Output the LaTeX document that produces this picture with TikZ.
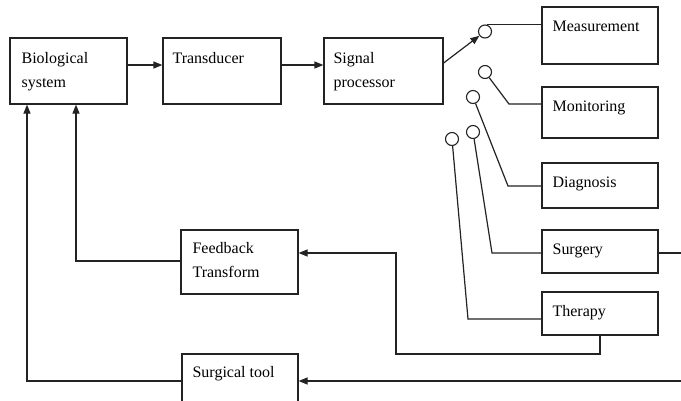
\documentclass[tikz,border=0pt]{standalone}
\usepackage{fontspec}
\setmainfont{Liberation Serif}
\usetikzlibrary{arrows.meta}
\definecolor{ink}{RGB}{35,35,35}
\tikzset{
  box/.style={draw=ink, line width=1.2pt, rectangle, inner sep=0pt, fill=white},
  lbl/.style={anchor=north west, inner sep=0pt, align=left, text=black,
    font=\fontsize{16}{24}\selectfont},
  sw/.style={draw=ink, line width=1.1pt, circle, minimum size=13pt, inner sep=0pt},
  wire/.style={draw=ink, line width=1.2pt},
  arr/.style={wire, -{Triangle[length=9pt,width=7pt]}}
}
\begin{document}
\begin{tikzpicture}[x=1pt,y=-1pt]
\useasboundingbox[fill=white] (0,0) rectangle (681,400);
% boxes
\node[box, minimum width=117pt, minimum height=66pt] (bio)   at (68.5,71) {};
\node[box, minimum width=118pt, minimum height=66pt] (trans) at (222,71) {};
\node[box, minimum width=119pt, minimum height=66pt] (sig)   at (383.5,71) {};
\node[box, minimum width=116pt, minimum height=57pt] (meas)  at (600,35.5) {};
\node[box, minimum width=116pt, minimum height=51pt] (mon)   at (600,112.5) {};
\node[box, minimum width=116pt, minimum height=45pt] (diag)  at (600,185.5) {};
\node[box, minimum width=116pt, minimum height=43pt] (surg)  at (600,251.5) {};
\node[box, minimum width=116pt, minimum height=43pt] (ther)  at (600,313.5) {};
\node[box, minimum width=117pt, minimum height=64pt] (fb)    at (239.5,262) {};
\node[box, minimum width=116pt, minimum height=64pt] (tool)  at (240,386) {};
% labels
\node[lbl] (tbio)   at ([shift={(12pt,-15pt)}]bio.north west) {Biological\\system};
\node[lbl] (ttrans) at ([shift={(10pt,-15pt)}]trans.north west) {Transducer};
\node[lbl] (tsig)   at ([shift={(10pt,-15pt)}]sig.north west) {Signal\\processor};
\node[lbl] (tmeas)  at ([shift={(11pt,-14pt)}]meas.north west) {Measurement};
\node[lbl] (tmon)   at ([shift={(11pt,-14pt)}]mon.north west) {Monitoring};
\node[lbl] (tdiag)  at ([shift={(11pt,-14pt)}]diag.north west) {Diagnosis};
\node[lbl] (tsurg)  at ([shift={(11pt,-14pt)}]surg.north west) {Surgery};
\node[lbl] (tther)  at ([shift={(11pt,-14pt)}]ther.north west) {Therapy};
\node[lbl] (tfb)    at ([shift={(12pt,-13pt)}]fb.north west) {Feedback\\Transform};
\node[lbl] (ttool)  at ([shift={(11pt,-13pt)}]tool.north west) {Surgical tool};
% switch contacts
\node[sw] (c1) at (485,31.5) {};
\node[sw] (c2) at (485,72) {};
\node[sw] (c3) at (473,97) {};
\node[sw] (c4) at (473,132) {};
\node[sw] (c5) at (452,139) {};
% bend points
\coordinate (k2) at (509,104);
\coordinate (k3) at (508,186);
\coordinate (k4) at (492,253);
\coordinate (k5) at (468,319);
\coordinate (k6) at (396,354);
\coordinate (k7) at (396,253);
\coordinate (e1) at (681,253);
\coordinate (e2) at (681,381);
\coordinate (f1) at (76,261);
\coordinate (f2) at (27,381);
% forward path
\draw[arr] ([yshift=6pt]bio.east) -- ([yshift=6pt]trans.west);
\draw[arr] ([yshift=6pt]trans.east) -- ([yshift=6pt]sig.west);
\draw[arr] ([yshift=8pt]sig.east) -- (c1);
% outputs
\draw[wire] (c1.70) -- (c1.70 -| meas.west);
\draw[wire] (c2) -- (k2) -- (k2 -| mon.west);
\draw[wire] (c3) -- (k3) -- (k3 -| diag.west);
\draw[wire] (c4) -- (k4) -- (k4 -| surg.west);
\draw[wire] (c5) -- (k5) -- (k5 -| ther.west);
\draw[wire] (surg.east |- e1) -- (e1);
% feedback
\draw[arr] (ther.south) -- (ther.south |- k6) -- (k6) -- (k7) -- (k7 -| fb.east);
\draw[arr] (e2) -- (e2 -| tool.east);
\draw[arr] (f1 -| fb.west) -- (f1) -- (f1 |- bio.south);
\draw[arr] (f2 -| tool.west) -- (f2) -- (f2 |- bio.south);
\end{tikzpicture}
\end{document}
